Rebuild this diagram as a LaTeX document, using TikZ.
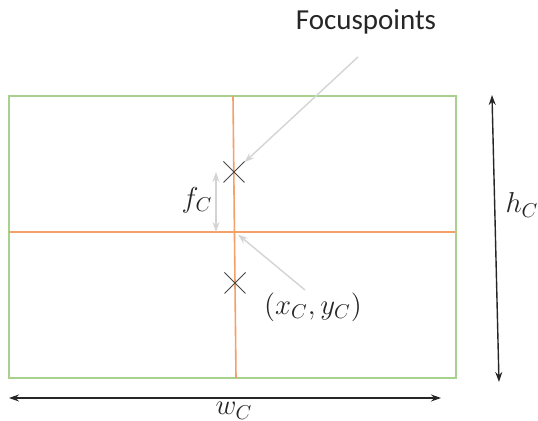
\documentclass[tikz,border=0pt]{standalone}
\usepackage{fontspec}
\setmainfont{Carlito}
\usetikzlibrary{arrows.meta,positioning,shapes.misc}
\definecolor{frame}{RGB}{169,209,142}
\definecolor{axis}{RGB}{244,160,105}
\definecolor{pointer}{RGB}{212,212,212}
\definecolor{cross}{RGB}{70,70,70}

\begin{document}
\begin{tikzpicture}[x=0.5pt, y=-0.5pt,
  frameline/.style={draw=frame, line width=0.9pt},
  axisline/.style={draw=axis, line width=0.8pt},
  ptr/.style={draw=pointer, line width=0.7pt, -{Stealth[length=5pt,width=3.5pt]}},
  dimline/.style={draw=black!85, line width=0.7pt, {Stealth[length=5pt,width=3.5pt]}-{Stealth[length=5pt,width=3.5pt]}},
  focus/.style={cross out, draw=cross, minimum size=10pt, inner sep=0pt, line width=0.5pt},
  lbl/.style={font=\fontsize{14.5}{17}\selectfont, text=black!85, inner sep=0pt},
  mlbl/.style={font=\fontsize{14.5}{17}\selectfont, text=black!85, inner sep=0pt}
]
\useasboundingbox (0,0) rectangle (538,421);

% sensor frame and axes
\draw[frameline] (9,96) rectangle (456,378);
\coordinate (vtop) at (233,96);
\coordinate (vbot) at (236,378);
\coordinate (hleft) at (9,232);
\coordinate (hright) at (455,232);
\draw[axisline] (vtop) -- (vbot);
\draw[axisline] (hleft) -- (hright);
\coordinate (center) at (235,232);

% focus points
\node[focus] (fup) at (234,172) {};
\node[focus] (fdown) at (235,283) {};

% labels
\node[lbl] (fplabel) at (366,22) {Focuspoints};
\node[mlbl] (fclabel) at (197,200) {$f_C$};
\node[mlbl] (cclabel) at (313,307) {$(x_C,y_C)$};
\node[mlbl] (hclabel) at (522,205) {$h_C$};
\node[mlbl, anchor=north] (wclabel) at (234,402) {$w_C$};

% pointers
\coordinate (fptail) at (358,57);
\coordinate (cctail) at (305,290);
\draw[ptr] (fptail) -- (fup);
\draw[ptr, shorten >=2pt] (cctail) -- (center);

% dimensions
\coordinate (fctop) at (216,172);
\coordinate (fcbot) at (216,232);
\draw[ptr, {Stealth[length=5pt,width=3.5pt]}-{Stealth[length=5pt,width=3.5pt]}] (fctop) -- (fcbot);
\coordinate (htop) at (492,95);
\coordinate (hbot) at (499,382);
\draw[dimline] (htop) -- (hbot);
\coordinate (wleft) at (9,398);
\coordinate (wright) at (441,398);
\draw[dimline] (wleft) -- (wright);
\end{tikzpicture}
\end{document}
